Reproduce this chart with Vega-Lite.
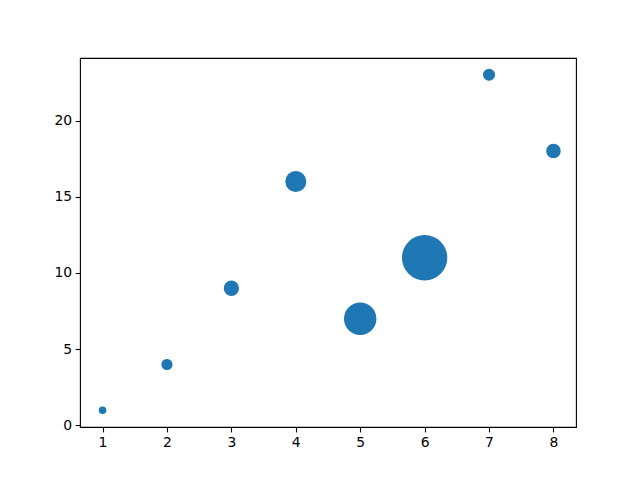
{
  "$schema": "https://vega.github.io/schema/vega-lite/v6.json",
  "width": 496,
  "height": 369,
  "autosize": {"type": "none"},
  "padding": {"left": 80, "top": 58, "right": 64, "bottom": 53},
  "background": "white",
  "config": {
    "view": {"stroke": "black", "strokeWidth": 1.1},
    "axis": {
      "domain": false,
      "grid": false,
      "ticks": true,
      "tickColor": "black",
      "tickSize": 4.9,
      "tickWidth": 1.1,
      "labelFont": "DejaVu Sans",
      "labelFontSize": 13.9,
      "labelColor": "black",
      "labelPadding": 3.5,
      "title": null
    }
  },
  "data": {
    "values": [
      {"x": 1, "y": 1, "s": 20},
      {"x": 2, "y": 4, "s": 50},
      {"x": 3, "y": 9, "s": 100},
      {"x": 4, "y": 16, "s": 200},
      {"x": 5, "y": 7, "s": 500},
      {"x": 6, "y": 11, "s": 1000},
      {"x": 7, "y": 23, "s": 60},
      {"x": 8, "y": 18, "s": 90}
    ]
  },
  "mark": {"type": "point", "shape": "circle", "filled": true, "opacity": 1, "color": "#1f77b4", "stroke": "#1f77b4", "strokeWidth": 1.39, "strokeOpacity": 1},
  "encoding": {
    "x": {
      "field": "x",
      "type": "quantitative",
      "scale": {"domain": [0.65, 8.35], "nice": false, "zero": false},
      "axis": {"values": [1, 2, 3, 4, 5, 6, 7, 8], "labelFlush": false}
    },
    "y": {
      "field": "y",
      "type": "quantitative",
      "scale": {"domain": [-0.1, 24.1], "nice": false, "zero": false},
      "axis": {"values": [0, 5, 10, 15, 20], "labelFlush": false}
    },
    "size": {
      "field": "s",
      "type": "quantitative",
      "scale": {"type": "linear", "domain": [0, 1000], "range": [0, 1929], "zero": true},
      "legend": null
    }
  }
}
